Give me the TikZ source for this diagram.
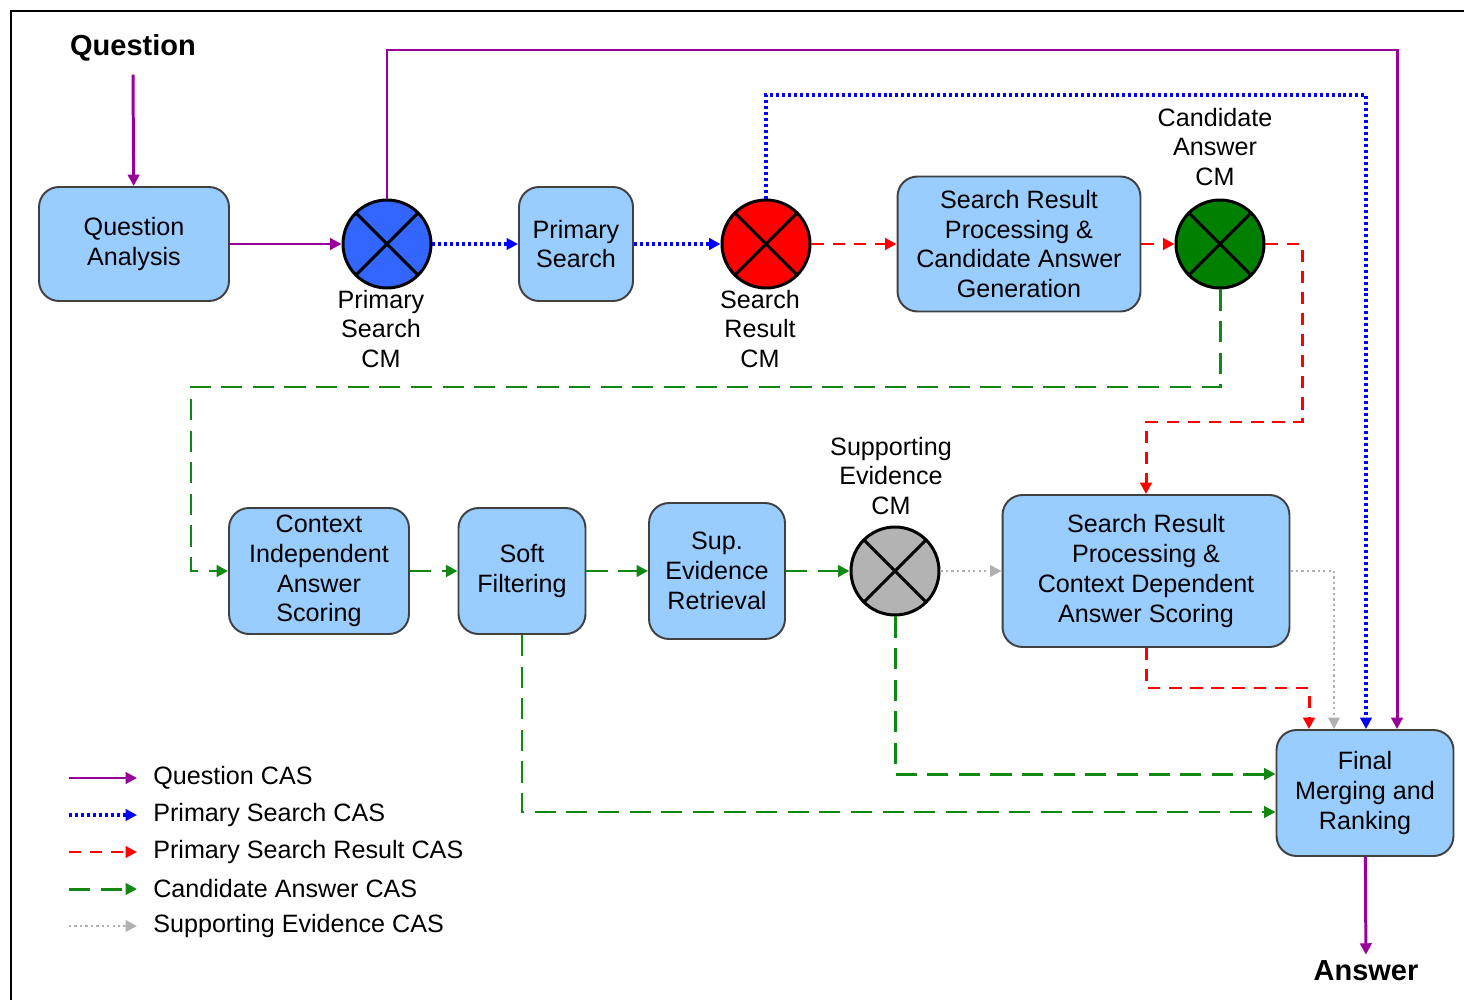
\documentclass[tikz,border=0pt]{standalone}
\usepackage{fontspec}
\setmainfont{Liberation Sans}
\usetikzlibrary{arrows.meta}
\definecolor{qpurple}{HTML}{990099}
\definecolor{psblue}{HTML}{0000FF}
\definecolor{srred}{HTML}{FF0000}
\definecolor{cagreen}{HTML}{118811}
\definecolor{segray}{HTML}{B0B0B0}
\definecolor{boxblue}{HTML}{99CCFF}
\definecolor{cmblue}{HTML}{3366FF}
\definecolor{cmgreen}{HTML}{007F00}
\definecolor{cmgray}{HTML}{B3B3B3}
\begin{document}
\begin{tikzpicture}[x=0.02cm,y=-0.02cm,
   txt/.style={align=center,font=\fontsize{14.3}{17}\selectfont},
   bigtxt/.style={font=\fontsize{16.5}{20}\selectfont\bfseries},
   box/.style={txt,draw=black!75,line width=1.1pt,fill=boxblue,rounded corners=0.4cm,inner sep=1pt},
   merge/.style={circle,draw=black,line width=1.7pt,minimum size=1.76cm,inner sep=0pt,
      path picture={\draw[line width=1.7pt] (path picture bounding box.north west)--(path picture bounding box.south east)
         (path picture bounding box.north east)--(path picture bounding box.south west);}},
   tip/.style={-{Triangle[length=6.5pt,width=6.5pt]}},
   qcas/.style={tip,draw=qpurple,line width=1.7pt},
   pscas/.style={tip,draw=psblue,line width=1.8pt,dash pattern=on 1.7pt off 1.7pt},
   psrcas/.style={tip,draw=srred,line width=1.7pt,dash pattern=on 7pt off 5pt},
   cacas/.style={tip,draw=cagreen,line width=1.7pt,dash pattern=on 12pt off 6pt},
   secas/.style={tip,draw=segray,line width=1.3pt,dash pattern=on 1.3pt off 1.8pt}]
   \useasboundingbox (0,0) rectangle (1464,1000);
   \draw[line width=1.7pt] (11,1000) -- (11,11) -- (1464,11);

   % upper row
   \node[bigtxt] (question) at (133,48) {Question};
   \node[box,minimum width=3.8cm,minimum height=2.28cm] (qa) at (134,244) {Question\\Analysis};
   \node[merge,fill=cmblue] (pscm) at (387,244) {};
   \node[txt] (pscmlbl) at (381,329) {Primary\\Search\\CM};
   \node[box,minimum width=2.28cm,minimum height=2.28cm] (ps) at (576,244) {Primary\\Search};
   \node[merge,fill=srred] (srcm) at (766,244) {};
   \node[txt] (srcmlbl) at (760,329) {Search\\Result\\CM};
   \node[box,minimum width=4.86cm,minimum height=2.7cm] (srp) at (1019,244) {Search Result\\Processing \&\\Candidate Answer\\Generation};
   \node[merge,fill=cmgreen] (cacm) at (1220,244) {};
   \node[txt] (cacmlbl) at (1215,147) {Candidate\\Answer\\CM};

   % lower row
   \node[box,minimum width=3.6cm,minimum height=2.52cm] (cias) at (319,571) {Context\\Independent\\Answer\\Scoring};
   \node[box,minimum width=2.54cm,minimum height=2.52cm] (sf) at (522,571) {Soft\\Filtering};
   \node[box,minimum width=2.72cm,minimum height=2.72cm] (ser) at (717,571) {Sup.\\Evidence\\Retrieval};
   \node[merge,fill=cmgray] (secm) at (895,571) {};
   \node[txt] (secmlbl) at (891,476) {Supporting\\Evidence\\CM};
   \node[box,minimum width=5.74cm,minimum height=3.04cm] (srcd) at (1146,571) {Search Result\\Processing \&\\Context Dependent\\Answer Scoring};
   \node[box,minimum width=3.54cm,minimum height=2.52cm] (final) at (1365,793) {Final\\Merging and\\Ranking};
   \node[bigtxt] (answer) at (1366,971) {Answer};

   % turning points
   \coordinate (qturn) at (1397,50);
   \coordinate (pturn) at (1366,95);
   \coordinate (rturn) at (1302,422);
   \coordinate (gturn) at (191,387);
   \coordinate (sturn) at (1334,571);
   \coordinate (dturn) at (1309,688);

   % connectors
   \draw[qcas] ([yshift=-0.14cm]question.south) -- (qa);
   \draw[qcas] (qa) -- (pscm);
   \draw[qcas] (pscm.north) |- (qturn) -- (qturn |- final.north);
   \draw[pscas] (pscm) -- (ps);
   \draw[pscas] (ps) -- (srcm);
   \draw[pscas] (srcm.north) |- (pturn) -- (pturn |- final.north);
   \draw[psrcas] (srcm) -- (srp);
   \draw[psrcas] (srp) -- (cacm);
   \draw[psrcas] (cacm.east) -| (rturn) -| (srcd.north);
   \draw[cacas] (cacm.south) |- (gturn) |- (cias.west);
   \draw[cacas] (cias) -- (sf);
   \draw[cacas] (sf) -- (ser);
   \draw[cacas] (ser) -- (secm);
   \draw[secas] (secm) -- (srcd);
   \draw[secas] (srcd.east) -| (sturn |- final.north);
   \draw[psrcas] (srcd.south) |- (dturn) -- (dturn |- final.north);
   \draw[cacas] (secm.south) |- ([yshift=0.38cm]final.west);
   \draw[cacas] (sf.south) |- ([yshift=-0.38cm]final.west);
   \draw[qcas] (final) -- (answer);

   % legend
   \foreach \sty/\name [count=\i] in {qcas/Question CAS,pscas/Primary Search CAS,psrcas/Primary Search Result CAS,cacas/Candidate Answer CAS,secas/Supporting Evidence CAS}{
      \coordinate (legs\i) at (69,741+37*\i);
      \coordinate (lege\i) at (137,741+37*\i);
      \node[txt,anchor=west,inner sep=0pt] (legtxt\i) at (153,741+37*\i) {\name};
      \draw[\sty] (legs\i) -- (lege\i);
   }
\end{tikzpicture}
\end{document}
